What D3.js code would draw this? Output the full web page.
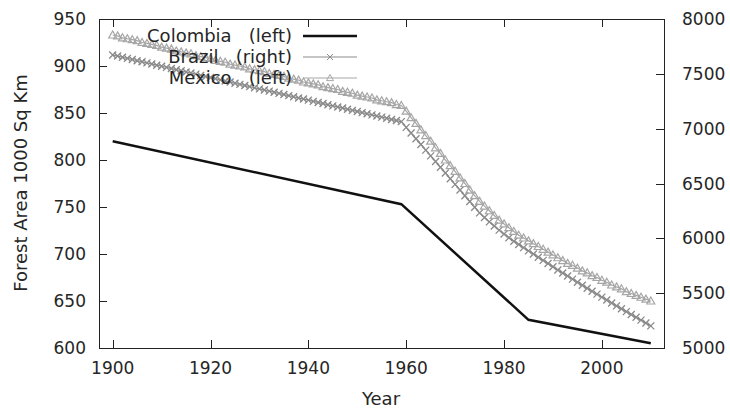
<!DOCTYPE html>
<html>
<head>
<meta charset="utf-8">
<script src="https://cdn.jsdelivr.net/npm/d3@7"></script>
<style>
  html, body { margin: 0; padding: 0; background: #fff; }
  svg { display: block; font-family: "DejaVu Sans", Verdana, sans-serif; }
</style>
</head>
<body>
<div id="chart"></div>
<script>
// forest area, 1000 sq km -- Colombia & Mexico on left axis, Brazil on right

const years = d3.range(1900, 2011);

// Colombia only has a few readings, joined by straight segments
const colombiaYears = [1900, 1959, 1985, 2010];
const colombia = [820, 753, 630, 605];

const brazil = [
  7672, 7662, 7651, 7641, 7631, 7620, 7610, 7600, 7590, 7579,
  7569, 7559, 7548, 7538, 7528, 7517, 7507, 7497, 7486, 7476,
  7466, 7456, 7445, 7435, 7425, 7414, 7404, 7394, 7383, 7373,
  7363, 7352, 7342, 7332, 7322, 7311, 7301, 7291, 7280, 7270,
  7260, 7249, 7239, 7229, 7218, 7208, 7198, 7188, 7177, 7167,
  7157, 7146, 7136, 7126, 7115, 7105, 7095, 7084, 7074, 7064,
  7012, 6960, 6908, 6856, 6804, 6752, 6700, 6648, 6596, 6544,
  6492, 6440, 6388, 6336, 6284, 6232, 6190, 6150, 6112, 6075,
  6040, 6006, 5974, 5944, 5915, 5886, 5857, 5828, 5799, 5770,
  5741, 5712, 5684, 5656, 5628, 5600, 5572, 5545, 5518, 5491,
  5464, 5437, 5410, 5384, 5358, 5332, 5306, 5280, 5254, 5228,
  5202
];

const mexico = [
  933, 932, 930, 929, 928, 927, 925, 924, 923, 922,
  920, 919, 918, 916, 915, 914, 913, 911, 910, 909,
  908, 906, 905, 904, 902, 901, 900, 899, 897, 896,
  895, 894, 892, 891, 890, 889, 887, 886, 885, 883,
  882, 881, 880, 878, 877, 876, 875, 873, 872, 871,
  869, 868, 867, 866, 864, 863, 862, 861, 859, 858,
  852, 845, 839, 832, 826, 820, 813, 807, 800, 794,
  788, 781, 775, 768, 762, 756, 751, 746, 741, 736,
  732, 728, 724, 720, 717, 714, 711, 708, 705, 702,
  699, 696, 693, 690, 688, 685, 682, 680, 677, 675,
  672, 670, 667, 665, 663, 660, 658, 656, 654, 652,
  650
];

const xTicks = [1900, 1920, 1940, 1960, 1980, 2000];
const yLeftTicks = [600, 650, 700, 750, 800, 850, 900, 950];
const yRightTicks = [5000, 5500, 6000, 6500, 7000, 7500, 8000];

const legendItems = [
  { label: "Colombia   (left)", kind: "colombia" },
  { label: "Brazil   (right)", kind: "brazil" },
  { label: "Mexico   (left)", kind: "mexico" }
];

const W = 730, H = 410;
const plot = { left: 99, right: 664, top: 19, bottom: 348 };

const svg = d3.select("#chart").append("svg")
  .attr("width", W).attr("height", H);

const x = d3.scaleLinear().domain([1897.2, 2012.7]).range([plot.left, plot.right]);
const yL = d3.scaleLinear().domain([600, 950]).range([plot.bottom, plot.top]);
const yR = d3.scaleLinear().domain([5000, 8000]).range([plot.bottom, plot.top]);

const frameColor = "#222";
const tickLen = 8;

// ticks (inward, x mirrored on top)
const axisG = svg.append("g").attr("stroke", frameColor).attr("stroke-width", 1);
xTicks.forEach(t => {
  const px = Math.round(x(t)) + 0.5;
  axisG.append("line").attr("x1", px).attr("x2", px)
    .attr("y1", plot.bottom).attr("y2", plot.bottom - tickLen);
  axisG.append("line").attr("x1", px).attr("x2", px)
    .attr("y1", plot.top).attr("y2", plot.top + tickLen);
});
yLeftTicks.forEach(t => {
  const py = Math.round(yL(t)) + 0.5;
  axisG.append("line").attr("x1", plot.left).attr("x2", plot.left + tickLen)
    .attr("y1", py).attr("y2", py);
});
yRightTicks.forEach(t => {
  const py = Math.round(yR(t)) + 0.5;
  axisG.append("line").attr("x1", plot.right).attr("x2", plot.right - tickLen)
    .attr("y1", py).attr("y2", py);
});

// border
svg.append("rect")
  .attr("x", plot.left + 0.5).attr("y", plot.top + 0.5)
  .attr("width", plot.right - plot.left).attr("height", plot.bottom - plot.top)
  .attr("fill", "none").attr("stroke", frameColor).attr("stroke-width", 1);

// tick labels
const textColor = "#262626";
const tickFont = "17px";
svg.append("g").selectAll("text").data(xTicks).join("text")
  .attr("x", d => x(d)).attr("y", 374)
  .attr("text-anchor", "middle").attr("fill", textColor)
  .style("font-size", tickFont).text(d => d);
svg.append("g").selectAll("text").data(yLeftTicks).join("text")
  .attr("x", 86).attr("y", d => yL(d)).attr("dy", "0.36em")
  .attr("text-anchor", "end").attr("fill", textColor)
  .style("font-size", tickFont).text(d => d);
svg.append("g").selectAll("text").data(yRightTicks).join("text")
  .attr("x", 682).attr("y", d => yR(d)).attr("dy", "0.36em")
  .attr("text-anchor", "start").attr("fill", textColor)
  .style("font-size", tickFont).text(d => d);

// axis titles
svg.append("text").attr("x", 381).attr("y", 405)
  .attr("text-anchor", "middle").attr("fill", textColor)
  .style("font-size", "18px").text("Year");
svg.append("text")
  .attr("transform", "translate(27,183) rotate(-90)")
  .attr("text-anchor", "middle").attr("fill", textColor)
  .style("font-size", "18px").text("Forest Area 1000 Sq Km");

// series
const lineCol = d3.line().x((d, i) => x(colombiaYears[i])).y(d => yL(d));
svg.append("path").datum(colombia)
  .attr("d", lineCol).attr("fill", "none")
  .attr("stroke", "#111").attr("stroke-width", 2.5);

const brazilColor = "#8a8a8a", mexicoColor = "#a6a6a6";

const lineBr = d3.line().x((d, i) => x(years[i])).y(d => yR(d));
svg.append("path").datum(brazil)
  .attr("d", lineBr).attr("fill", "none")
  .attr("stroke", brazilColor).attr("stroke-width", 1.2);

const crossPath = (cx, cy, r) =>
  `M${cx - r},${cy - r}L${cx + r},${cy + r}M${cx - r},${cy + r}L${cx + r},${cy - r}`;
const triPath = (cx, cy, r) =>
  `M${cx},${cy - r}L${cx + r},${cy + r * 0.75}L${cx - r},${cy + r * 0.75}Z`;

svg.append("g").selectAll("path").data(brazil).join("path")
  .attr("d", (d, i) => crossPath(x(years[i]), yR(d), 3.5))
  .attr("fill", "none").attr("stroke", brazilColor).attr("stroke-width", 1.3);

const lineMx = d3.line().x((d, i) => x(years[i])).y(d => yL(d));
svg.append("path").datum(mexico)
  .attr("d", lineMx).attr("fill", "none")
  .attr("stroke", mexicoColor).attr("stroke-width", 1.2);

svg.append("g").selectAll("path").data(mexico).join("path")
  .attr("d", (d, i) => triPath(x(years[i]), yL(d), 4))
  .attr("fill", "none").attr("stroke", mexicoColor).attr("stroke-width", 1.2);

// legend (drawn over the data, like gnuplot)
const legend = svg.append("g");
legendItems.forEach((item, i) => {
  const cy = 36 + i * 21;
  legend.append("text").attr("x", 292).attr("y", cy).attr("dy", "0.36em")
    .attr("text-anchor", "end").attr("fill", textColor)
    .style("font-size", "18px").style("white-space", "pre")
    .attr("xml:space", "preserve").text(item.label);
  if (item.kind === "colombia") {
    legend.append("line").attr("x1", 303).attr("x2", 357).attr("y1", cy).attr("y2", cy)
      .attr("stroke", "#111").attr("stroke-width", 2.5);
  } else {
    const col = item.kind === "brazil" ? brazilColor : mexicoColor;
    legend.append("line").attr("x1", 303).attr("x2", 357).attr("y1", cy).attr("y2", cy)
      .attr("stroke", col).attr("stroke-width", 1);
    legend.append("path")
      .attr("d", item.kind === "brazil" ? crossPath(330, cy, 3) : triPath(330, cy, 3.5))
      .attr("fill", "none").attr("stroke", col).attr("stroke-width", 1);
  }
});
</script>
</body>
</html>
